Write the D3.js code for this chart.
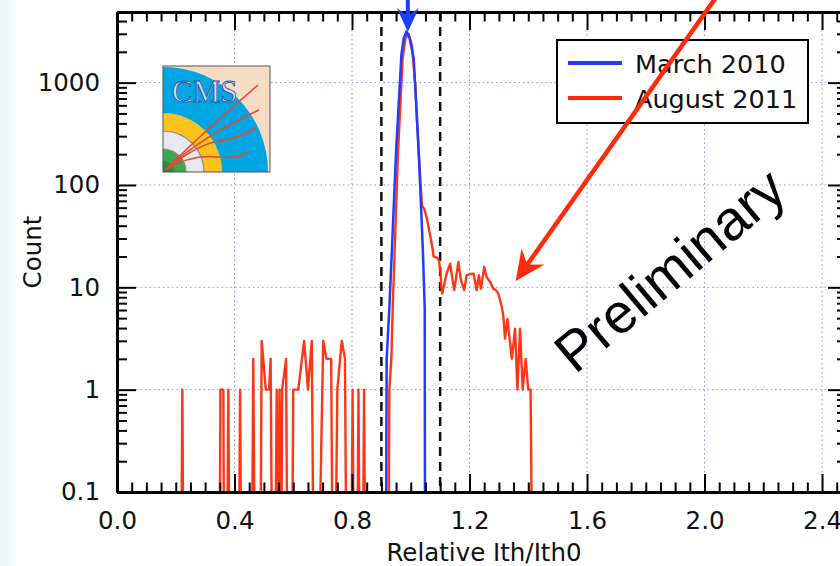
<!DOCTYPE html>
<html>
<head>
<meta charset="utf-8">
<script src="https://cdn.jsdelivr.net/npm/d3@7"></script>
<style>
  html, body { margin: 0; padding: 0; background: #fff; }
  svg { display: block; }
</style>
</head>
<body>
<svg id="chart" width="840" height="566"></svg>
<script>
// values
const xMajorTicks = [0, 0.4, 0.8, 1.2, 1.6, 2.0, 2.4];
const yMajorTicks = [0.1, 1, 10, 100, 1000];
const cutLines = [0.9, 1.1];
const seriesNames = ["March 2010", "August 2011"];

// [Relative Ith/Ith0, count]  (count 0 = empty bin)
const march2010 = [
  [0.916, 0], [0.918, 2], [0.927, 6.2], [0.936, 24], [0.950, 211], [0.968, 1850],
  [0.976, 2700], [0.985, 3150], [0.995, 2800], [1.010, 1720], [1.027, 211],
  [1.041, 24], [1.0475, 6.2], [1.0485, 0]
];

const august2011Low = [
  [0.2195, 0], [0.2224, 1], [0.2253, 0],
  [0.350, 0], [0.352, 1], [0.362, 1], [0.364, 0],
  [0.376, 0], [0.379, 1], [0.382, 0],
  [0.416, 0], [0.419, 1], [0.422, 0],
  [0.460, 0], [0.464, 2], [0.468, 0],
  [0.489, 0], [0.4925, 3], [0.5065, 1], [0.5175, 1], [0.523, 2], [0.527, 0],
  [0.540, 0], [0.5435, 1], [0.547, 0],
  [0.5505, 0], [0.553, 1], [0.556, 0],
  [0.560, 0], [0.562, 1], [0.5755, 2], [0.579, 0],
  [0.597, 0], [0.600, 1], [0.617, 1], [0.637, 3], [0.650, 1], [0.663, 3], [0.668, 0],
  [0.690, 0], [0.702, 3], [0.713, 2], [0.729, 2], [0.733, 0],
  [0.745, 0], [0.750, 1], [0.765, 3], [0.776, 2], [0.780, 0],
  [0.799, 0], [0.802, 1], [0.805, 0],
  [0.819, 0], [0.822, 1], [0.825, 0],
  [0.838, 0], [0.841, 1], [0.844, 0]
];

const august2011Peak = [
  [0.925, 0], [0.927, 1], [0.934, 2], [0.9385, 6.2], [0.9566, 211], [0.9725, 1720],
  [0.9815, 2700], [0.993, 3000], [1.004, 2300], [1.0155, 940], [1.027, 211],
  [1.038, 63], [1.046, 58], [1.055, 47], [1.071, 27], [1.078, 20], [1.089, 19.5],
  [1.096, 18.4], [1.101, 14], [1.104, 10], [1.107, 8.7],
  [1.122, 13.6], [1.134, 17], [1.139, 13.6], [1.148, 9.4], [1.162, 17.7], [1.171, 11.7],
  [1.182, 9.4], [1.190, 13.1], [1.207, 13.6], [1.214, 13.6], [1.224, 9.4], [1.232, 13.1],
  [1.239, 9.7], [1.250, 15.8], [1.258, 12.6], [1.270, 11.3], [1.281, 9.7], [1.289, 9.4],
  [1.298, 8.7], [1.310, 6.4], [1.315, 5.3], [1.321, 3.15], [1.329, 4.9], [1.344, 2.0],
  [1.355, 3.95], [1.363, 1.0], [1.372, 3.95], [1.381, 1.0], [1.391, 2.0], [1.400, 1],
  [1.408, 1], [1.412, 0]
];

const svg = d3.select("#chart");
const W = 840, H = 566;
const pLeft = 117, pRight = 847, pTop = 12, pBottom = 492;

const x = d3.scaleLinear().domain([0, 2.485]).range([pLeft, pRight]);
const y = d3.scaleLog().domain([0.1, 4900]).range([pBottom, pTop]);

const blue = "#1f3cff";
const red = "#ff2a0a";
const gridColor = "#8c8cff";
const labelFont = "'DejaVu Sans', sans-serif";

// light strip on the left edge
svg.append("rect").attr("x", 0).attr("y", 0).attr("width", 14).attr("height", H).attr("fill", "#eff6fc");

svg.append("defs").append("clipPath").attr("id", "plot-clip")
  .append("rect").attr("x", pLeft).attr("y", pTop).attr("width", pRight - pLeft).attr("height", pBottom - pTop);

// grid
const grid = svg.append("g");
grid.selectAll(".vgrid").data(xMajorTicks.filter(d => d > 0)).enter().append("line")
  .attr("x1", d => x(d)).attr("x2", d => x(d))
  .attr("y1", pTop + 18).attr("y2", pBottom - 18)
  .attr("stroke", gridColor).attr("stroke-width", 1).attr("stroke-dasharray", "1.5,3");
grid.selectAll(".hgrid").data(yMajorTicks.filter(d => d > 0.1)).enter().append("line")
  .attr("x1", pLeft + 19).attr("x2", pRight - 18)
  .attr("y1", d => y(d)).attr("y2", d => y(d))
  .attr("stroke", gridColor).attr("stroke-width", 1).attr("stroke-dasharray", "1.5,3");

// dashed cut lines
svg.selectAll(".cut").data(cutLines).enter().append("line")
  .attr("x1", d => x(d)).attr("x2", d => x(d))
  .attr("y1", pTop).attr("y2", pBottom)
  .attr("stroke", "#111").attr("stroke-width", 2.5).attr("stroke-dasharray", "9,6");

// data lines, empty bins drop below the axis and get clipped
const line = d3.line()
  .x(d => x(d[0]))
  .y(d => d[1] > 0 ? y(d[1]) : pBottom + 40);

const plot = svg.append("g").attr("clip-path", "url(#plot-clip)");
[august2011Low, august2011Peak].forEach(pts => {
  plot.append("path").datum(pts).attr("d", line)
    .attr("fill", "none").attr("stroke", red).attr("stroke-width", 2.4)
    .attr("stroke-linejoin", "round").attr("opacity", 0.95);
});
plot.append("path").datum(march2010).attr("d", line)
  .attr("fill", "none").attr("stroke", blue).attr("stroke-width", 2.5)
  .attr("stroke-linejoin", "round");

// axes
const xMinor = d3.range(0, 2.486, 0.05).filter(v => Math.abs(v / 0.4 - Math.round(v / 0.4)) > 1e-6);
const yMinor = [];
[0.1, 1, 10, 100, 1000].forEach(dec => {
  d3.range(2, 10).forEach(m => { if (dec * m <= 4900) yMinor.push(dec * m); });
});

function styleAxis(g) {
  g.select(".domain").attr("stroke", "#000").attr("stroke-width", 3);
  g.selectAll(".tick line").attr("stroke", "#000").attr("stroke-width", 2);
  g.selectAll("text").attr("font-family", labelFont).attr("font-size", 24.5).attr("fill", "#111");
}

const fmt = d => d === 0.1 ? "0.1" : String(d);

svg.append("g").attr("transform", `translate(0,${pBottom})`)
  .call(d3.axisBottom(x).tickValues(xMinor).tickSizeInner(-9.5).tickSizeOuter(0).tickFormat(""))
  .call(styleAxis);
svg.append("g").attr("transform", `translate(0,${pBottom})`)
  .call(d3.axisBottom(x).tickValues(xMajorTicks).tickSizeInner(-18).tickSizeOuter(0)
    .tickPadding(20).tickFormat(d3.format(".1f")))
  .call(styleAxis);

svg.append("g").attr("transform", `translate(0,${pTop})`)
  .call(d3.axisTop(x).tickValues(xMinor).tickSizeInner(-9.5).tickSizeOuter(0).tickFormat(""))
  .call(styleAxis);
svg.append("g").attr("transform", `translate(0,${pTop})`)
  .call(d3.axisTop(x).tickValues(xMajorTicks).tickSizeInner(-18).tickSizeOuter(0).tickFormat(""))
  .call(styleAxis);

svg.append("g").attr("transform", `translate(${pLeft},0)`)
  .call(d3.axisLeft(y).tickValues(yMinor).tickSizeInner(-10).tickSizeOuter(0).tickFormat(""))
  .call(styleAxis);
svg.append("g").attr("transform", `translate(${pLeft},0)`)
  .call(d3.axisLeft(y).tickValues(yMajorTicks).tickSizeInner(-19).tickSizeOuter(0)
    .tickPadding(17).tickFormat(fmt))
  .call(styleAxis);

svg.append("g").attr("transform", `translate(${pRight},0)`)
  .call(d3.axisRight(y).tickValues(yMinor).tickSizeInner(-10).tickSizeOuter(0).tickFormat(""))
  .call(styleAxis);
svg.append("g").attr("transform", `translate(${pRight},0)`)
  .call(d3.axisRight(y).tickValues(yMajorTicks).tickSizeInner(-19).tickSizeOuter(0).tickFormat(""))
  .call(styleAxis);

// axis titles
svg.append("text")
  .attr("x", 484).attr("y", 561)
  .attr("text-anchor", "middle")
  .attr("font-family", labelFont).attr("font-size", 24.5).attr("fill", "#111")
  .text("Relative Ith/Ith0");
svg.append("text")
  .attr("transform", `translate(41,${(pTop + pBottom) / 2}) rotate(-90)`)
  .attr("text-anchor", "middle")
  .attr("font-family", labelFont).attr("font-size", 24.5).attr("fill", "#111")
  .text("Count");

// CMS logo
const logo = svg.append("g").attr("transform", "translate(163,66)");
logo.append("clipPath").attr("id", "logo-clip").append("rect").attr("width", 107).attr("height", 106);
const lg = logo.append("g").attr("clip-path", "url(#logo-clip)");
lg.append("rect").attr("width", 107).attr("height", 106).attr("fill", "#f6dcc2");
const rings = [
  { r: 105, fill: "#00a5e3", stroke: "none" },
  { r: 59, fill: "#fcc21f", stroke: "none" },
  { r: 41, fill: "#e9e8f0", stroke: "#8a8a90" },
  { r: 23, fill: "#3aa84f", stroke: "#8a8a90" },
  { r: 11, fill: "#2b8a3e", stroke: "none" }
];
lg.selectAll("circle").data(rings).enter().append("circle")
  .attr("cx", 0).attr("cy", 106).attr("r", d => d.r)
  .attr("fill", d => d.fill).attr("stroke", d => d.stroke).attr("stroke-width", 1.2);
const tracks = [
  "M2,104 Q45,62 95,19",
  "M2,104 Q40,70 96,44",
  "M2,104 Q35,78 56,75 Q78,72 92,62",
  "M2,104 Q28,88 55,91 Q75,93 85,86"
];
lg.selectAll(".track").data(tracks).enter().append("path")
  .attr("d", d => d).attr("fill", "none").attr("stroke", "#e8482a").attr("stroke-width", 1.6);
lg.append("text").attr("x", 9).attr("y", 36)
  .attr("font-family", "'Liberation Serif', 'DejaVu Serif', serif").attr("font-size", 31)
  .attr("fill", "#cfe2f6").attr("stroke", "#2d4f9e").attr("stroke-width", 0.8)
  .text("CMS");
logo.append("rect").attr("width", 107).attr("height", 106)
  .attr("fill", "none").attr("stroke", "#555").attr("stroke-width", 1);

// legend
const legend = svg.append("g").attr("transform", "translate(557,40)");
legend.append("rect").attr("width", 251).attr("height", 83)
  .attr("fill", "#fff").attr("stroke", "#000").attr("stroke-width", 2);
const legendItems = legend.selectAll(".item").data(seriesNames).enter().append("g")
  .attr("transform", (d, i) => `translate(0,${23 + i * 35})`);
legendItems.append("line").attr("x1", 11).attr("x2", 65)
  .attr("stroke", (d, i) => i === 0 ? blue : red).attr("stroke-width", 4);
legendItems.append("text").attr("x", 78).attr("y", 10)
  .attr("font-family", labelFont).attr("font-size", 25.5).attr("fill", "#111")
  .text(d => d);

// red annotation arrow
const tip = [515.7, 281];
const dir = [0.577, -0.817];
const perp = [0.817, 0.577];
const notch = [tip[0] + 20 * dir[0], tip[1] + 20 * dir[1]];
svg.append("line")
  .attr("x1", notch[0]).attr("y1", notch[1])
  .attr("x2", tip[0] + 360 * dir[0]).attr("y2", tip[1] + 360 * dir[1])
  .attr("stroke", red).attr("stroke-width", 4.5);
const barbA = [tip[0] + 30 * dir[0] + 14 * perp[0], tip[1] + 30 * dir[1] + 14 * perp[1]];
const barbB = [tip[0] + 30 * dir[0] - 14 * perp[0], tip[1] + 30 * dir[1] - 14 * perp[1]];
svg.append("path")
  .attr("d", `M${tip}L${barbA}L${notch}L${barbB}Z`)
  .attr("fill", red);

// Preliminary
svg.append("text")
  .attr("transform", "translate(575,375) rotate(-40)")
  .attr("font-family", "'Liberation Sans', Arial, sans-serif").attr("font-size", 56)
  .attr("fill", "#000")
  .text("Preliminary");

// blue arrow marking the peak
const ax = x(0.99);
svg.append("line").attr("x1", ax).attr("x2", ax).attr("y1", -2).attr("y2", 18)
  .attr("stroke", blue).attr("stroke-width", 4);
svg.append("path")
  .attr("d", `M${ax},32L${ax - 11},8L${ax},16L${ax + 11},8Z`)
  .attr("fill", blue);
</script>
</body>
</html>
